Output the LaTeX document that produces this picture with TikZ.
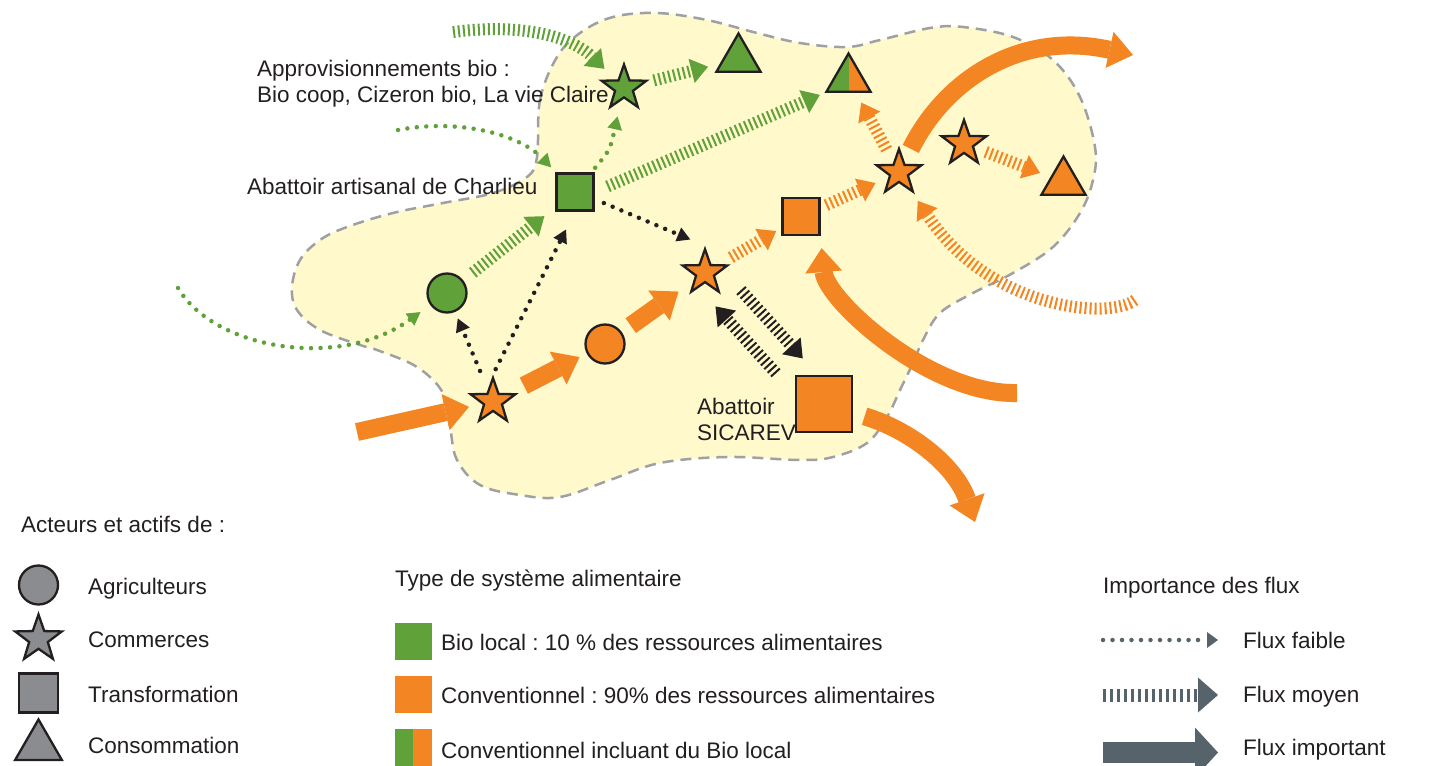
\documentclass[tikz,border=0pt]{standalone}
\usepackage{fontspec}
\setmainfont{Liberation Sans}
\usepackage{xcolor}
\usetikzlibrary{arrows.meta,shapes.geometric}
\definecolor{bio}{RGB}{96,161,58}
\definecolor{conv}{RGB}{243,133,34}
\definecolor{zone}{RGB}{255,249,204}
\definecolor{zoneline}{RGB}{158,160,163}
\definecolor{ink}{RGB}{35,31,32}
\definecolor{legshape}{RGB}{139,140,143}
\definecolor{legflux}{RGB}{87,99,107}
\frenchspacing

\begin{document}
\begin{tikzpicture}[x=1pt, y=-1pt,
    every node/.style={font=\fontsize{22.5}{25.5}\selectfont, text=ink},
    actor/.style={draw=ink, line width=2.3pt, inner sep=0pt},
    agri/.style={actor, circle, minimum size=39pt},
    shop/.style={actor, star, star points=5, star point ratio=2.5, minimum size=47pt},
    plant/.style={actor, rectangle, minimum size=37pt},
    eat/.style={actor, regular polygon, regular polygon sides=3, minimum size=51pt},
    txt/.style={anchor=base west, align=left, inner sep=0pt},
    faible/.style={line width=4.5pt, line cap=round, dash pattern=on 0pt off 9.5pt,
        -{Triangle[width=15pt,length=13pt,line width=0pt]}},
    moyen/.style={line width=12pt, dash pattern=on 2pt off 3pt,
        -{Triangle[width=25pt,length=17pt,line width=0pt]}},
    fort/.style={line width=18pt, -{Triangle[width=37pt,length=24pt,line width=0pt]}}]
    \useasboundingbox (0,0) rectangle (1433,766);

    \path[fill=zone, draw=zoneline, line width=2.5pt, dash pattern=on 11pt off 7pt]
        plot[smooth cycle, tension=0.6] coordinates {(537,157) (540,100) (557,57) (580,33)
        (613,17) (657,13) (707,20) (757,33) (800,43) (847,47) (880,40) (930,28) (963,27)
        (1013,37) (1053,60) (1080,97) (1095,147) (1093,180) (1080,213) (1053,247)
        (1013,273) (973,293) (940,313) (923,340) (913,363) (900,390) (887,417) (867,443)
        (833,457) (800,460) (727,457) (660,463) (610,480) (560,497) (520,495) (480,485)
        (457,460) (450,427) (443,393) (417,367) (377,350) (360,345) (320,330) (297,310)
        (292,287) (300,260) (320,240) (347,227) (393,213) (443,203) (493,193) (527,177)};

    \node[shop, fill=bio] (biostore) at (624,88) {};
    \node[eat, fill=bio] (bioeat) at (738.5,59) {};
    \node[eat, fill=conv, path picture={\fill[bio] (path picture bounding box.south west)
        rectangle (path picture bounding box.north);}] (mixeat) at (848.5,79) {};
    \node[plant, fill=bio] (charlieu) at (575,192) {};
    \node[agri, fill=bio] (biofarm) at (447,293) {};
    \node[shop, fill=conv] (shopA) at (493,401.5) {};
    \node[agri, fill=conv] (farm) at (605,344) {};
    \node[shop, fill=conv] (shopB) at (705,272.7) {};
    \node[plant, fill=conv] (plantA) at (801,216.5) {};
    \node[plant, fill=conv, minimum size=56pt] (sicarev) at (824,404) {};
    \node[shop, fill=conv] (shopC) at (899,172.5) {};
    \node[shop, fill=conv] (shopD) at (964,143.5) {};
    \node[eat, fill=conv] (eatC) at (1063.5,182) {};

    \node[txt] (biosupply) at (257,102) {Approvisionnements bio :\\Bio coop, Cizeron bio, La vie Claire};
    \node[txt] (charlieulab) at (247,194) {Abattoir artisanal de Charlieu};
    \node[txt] (sicarevlab) at (697,440) {Abattoir\\SICAREV};

    \coordinate (bioA) at (453,32);
    \coordinate (bioB) at (398,130);
    \coordinate (bioC) at (178,288);
    \coordinate (convA) at (357,432);
    \coordinate (convB) at (1135,300);
    \coordinate (convC) at (1133,55);
    \coordinate (convD) at (1017,393);
    \coordinate (convE) at (975,522);

    \draw[moyen, bio, shorten >=15pt] (bioA) .. controls (530,22) and (575,40) .. (biostore);
    \draw[faible, bio, shorten >=7pt] (bioB) .. controls (460,118) and (520,135) .. (charlieu);
    \draw[faible, bio, shorten <=6pt, shorten >=16pt] (charlieu) .. controls (610,150) .. (biostore);
    \draw[moyen, bio, shorten <=8pt, shorten >=12pt] (biostore) -- (bioeat);
    \draw[moyen, bio, shorten <=14pt, shorten >=5pt] (charlieu.east) -- (mixeat.corner 2);
    \draw[moyen, bio, shorten <=12pt, shorten >=14pt] (biofarm) -- (charlieu);
    \draw[faible, bio, shorten >=12pt] (bioC) .. controls (215,350) and (340,370) .. (biofarm);

    \draw[faible, ink, shorten <=20pt, shorten >=7pt] (shopA) -- (biofarm);
    \draw[faible, ink, shorten <=6pt, shorten >=20pt] (shopA.north) -- (charlieu.south);
    \draw[faible, ink, shorten <=10pt, shorten >=16pt] (charlieu.-20) -- (shopB.north);
    \draw[moyen, ink, shorten <=37pt, shorten >=48pt] ([shift={(11,-10)}]shopB.center) -- ([shift={(11,-10)}]sicarev.center);
    \draw[moyen, ink, shorten <=55pt, shorten >=32pt] ([shift={(-11,10)}]sicarev.center) -- ([shift={(-11,10)}]shopB.center);

    \draw[fort, conv, shorten >=13pt] (convA) -- (shopA);
    \draw[fort, conv, shorten <=16pt, shorten >=8pt] (shopA) -- (farm);
    \draw[fort, conv, shorten <=11pt, shorten >=18pt] (farm) -- (shopB);
    \draw[moyen, conv, shorten <=13pt, shorten >=6pt] (shopB) -- (plantA);
    \draw[moyen, conv, shorten <=6pt, shorten >=14pt] (plantA) -- (shopC);
    \draw[moyen, conv, shorten <=14pt, shorten >=11pt] (shopC) -- (mixeat);
    \draw[moyen, conv, shorten <=12pt, shorten >=11pt] (shopD) -- (eatC);
    \draw[moyen, conv, shorten >=10pt] (convB) .. controls (1110,320) and (990,310) .. (shopC);
    \draw[fort, conv, shorten <=14pt] (shopC) .. controls (945,80) and (1020,30) .. (convC);
    \draw[fort, conv, shorten >=12pt] (convD) .. controls (930,395) and (826,300) .. (plantA.south east);
    \draw[fort, conv, shorten <=12pt] (sicarev) .. controls (910,430) and (955,465) .. (convE);

    \node[txt] (acteurs) at (21,532) {Acteurs et actifs de :};
    \node[agri, fill=legshape] (legagri) at (38.5,585) {};
    \node[shop, fill=legshape, minimum size=49pt] (legshop) at (38.5,639) {};
    \node[plant, fill=legshape, minimum size=39pt] (legplant) at (38.5,693) {};
    \node[eat, fill=legshape, minimum size=54pt] (legeat) at (38.5,746.5) {};
    \foreach \y/\t in {594/Agriculteurs, 647/Commerces, 702/Transformation, 753/Consommation}
        \node[txt] (actor\y) at (88,\y) {\t};

    \node[txt] (typetitle) at (395,586) {Type de système alimentaire};
    \node[fill=bio, minimum width=37pt, minimum height=37pt, inner sep=0pt] (sqbio) at (413,641.5) {};
    \node[fill=conv, minimum width=37pt, minimum height=37pt, inner sep=0pt] (sqconv) at (413,694.5) {};
    \node[fill=conv, minimum width=37pt, minimum height=37pt, inner sep=0pt,
        path picture={\fill[bio] (path picture bounding box.south west)
        rectangle (path picture bounding box.north);}] (sqmix) at (413,747.5) {};
    \node[txt] (typebio) at (441,650) {Bio local : 10 \% des ressources alimentaires};
    \node[txt] (typeconv) at (441,703) {Conventionnel : 90\% des ressources alimentaires};
    \node[txt] (typemix) at (441,758) {Conventionnel incluant du Bio local};

    \node[txt] (fluxtitle) at (1103,593) {Importance des flux};
    \coordinate (faibleA) at (1103,640);
    \coordinate (faibleB) at (1218,640);
    \coordinate (moyenA) at (1103,695);
    \coordinate (moyenB) at (1218,695);
    \coordinate (fortA) at (1103,752.5);
    \coordinate (fortB) at (1218,752.5);
    \draw[faible, legflux, -{Triangle[width=16pt,length=11pt,line width=0pt]}] (faibleA) -- (faibleB);
    \draw[moyen, legflux, line width=13pt, dash pattern=on 3pt off 4pt,
        -{Triangle[width=35pt,length=20pt,line width=0pt]}] (moyenA) -- (moyenB);
    \draw[fort, legflux, line width=21.5pt, -{Triangle[width=50pt,length=23pt,line width=0pt]}] (fortA) -- (fortB);
    \node[txt] (fluxfaible) at (1243,648) {Flux faible};
    \node[txt] (fluxmoyen) at (1243,702) {Flux moyen};
    \node[txt] (fluxfort) at (1243,755) {Flux important};
\end{tikzpicture}
\end{document}
